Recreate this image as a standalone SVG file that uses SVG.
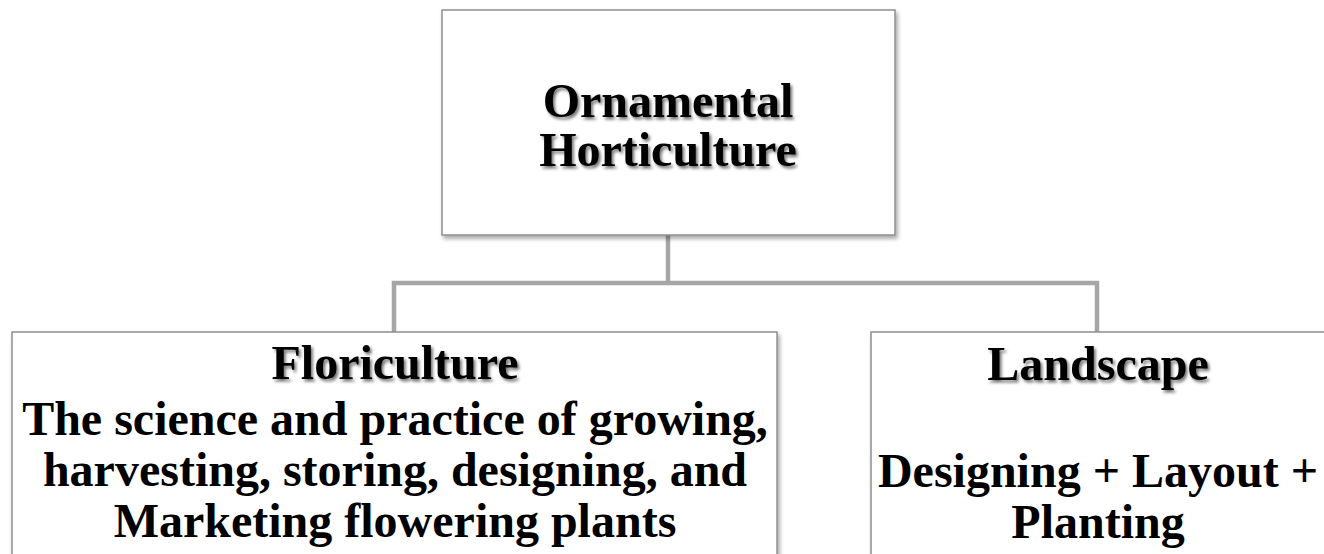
<svg xmlns="http://www.w3.org/2000/svg" width="1324" height="554" viewBox="0 0 1324 554">
  <defs>
    <filter id="boxShadow" x="-5%" y="-5%" width="115%" height="115%">
      <feDropShadow dx="2" dy="3" stdDeviation="2" flood-color="#000" flood-opacity="0.35"/>
    </filter>
    <filter id="textShadow" x="-5%" y="-20%" width="115%" height="150%">
      <feDropShadow dx="2" dy="2.5" stdDeviation="1.5" flood-color="#000" flood-opacity="0.55"/>
    </filter>
  </defs>
  <style>
    .box { fill: #ffffff; stroke: #8f8f8f; stroke-width: 1.5; filter: url(#boxShadow); }
    .conn { fill: none; stroke: #a6a6a6; stroke-width: 4.5; }
    .title { font-family: "Liberation Serif", "Times New Roman", serif; font-weight: bold; font-size: 48px; fill: #000; text-anchor: middle; filter: url(#textShadow); }
    .body { font-family: "Liberation Serif", "Times New Roman", serif; font-weight: bold; font-size: 48px; fill: #000; text-anchor: middle; }
  </style>
  <rect width="1324" height="554" fill="#ffffff"/>

  <g id="connectors">
    <line class="conn" x1="668" y1="235" x2="668" y2="283"/>
    <polyline class="conn" points="394,332 394,283 1097,283 1097,332"/>
  </g>

  <g id="node-ornamental">
    <rect class="box" x="442" y="10" width="453" height="225"/>
    <text class="title" x="668" y="117">Ornamental</text>
    <text class="title" x="668" y="166">Horticulture</text>
  </g>

  <g id="node-floriculture">
    <rect class="box" x="12" y="332" width="765" height="240"/>
    <text class="title" x="395" y="379">Floriculture</text>
    <text class="body" x="395" y="435">The science and practice of growing,</text>
    <text class="body" x="395" y="486">harvesting, storing, designing, and</text>
    <text class="body" x="395" y="537">Marketing flowering plants</text>
  </g>

  <g id="node-landscape">
    <rect class="box" x="871" y="332" width="460" height="240"/>
    <text class="title" x="1098" y="380">Landscape</text>
    <text class="body" x="1098" y="487">Designing + Layout +</text>
    <text class="body" x="1098" y="538">Planting</text>
  </g>
</svg>
